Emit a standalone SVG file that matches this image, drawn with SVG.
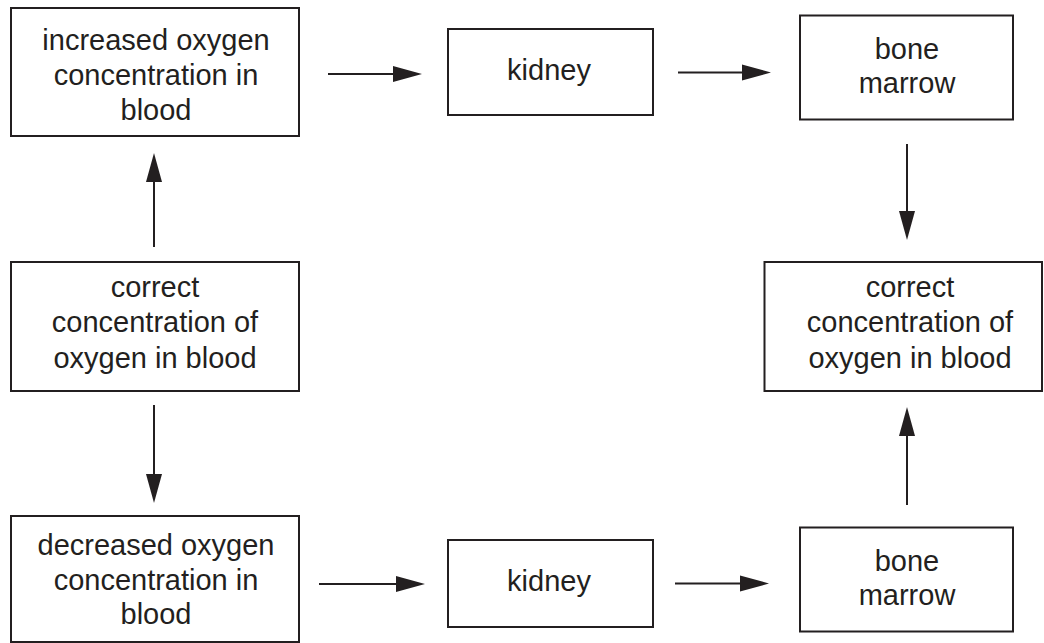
<svg xmlns="http://www.w3.org/2000/svg" width="1044" height="643" viewBox="0 0 1044 643">
<style>
.box{fill:#fff;stroke:#231f20;stroke-width:2}
.lbl{font-family:"Liberation Sans",Arial,sans-serif;font-size:29px;fill:#231f20;text-anchor:middle}
.conn{stroke:#231f20;stroke-width:2;fill:none;marker-end:url(#ah)}
</style>
<defs>
<marker id="ah" markerUnits="userSpaceOnUse" markerWidth="30" markerHeight="17" refX="19" refY="8" orient="auto" overflow="visible">
<path d="M0,0 L29,8 L0,16 Z" fill="#231f20"/>
</marker>
</defs>
<rect width="1044" height="643" fill="#fff"/>
<g id="connectors">
<line class="conn" x1="328" y1="74" x2="412" y2="74"/>
<line class="conn" x1="678" y1="72.5" x2="761" y2="72.5"/>
<line class="conn" x1="907" y1="144" x2="907" y2="230"/>
<line class="conn" x1="154" y1="247" x2="154" y2="163"/>
<line class="conn" x1="154" y1="405" x2="154" y2="493"/>
<line class="conn" x1="319" y1="584" x2="415" y2="584"/>
<line class="conn" x1="675" y1="583.5" x2="759" y2="583.5"/>
<line class="conn" x1="907" y1="505" x2="907" y2="417"/>
</g>
<g id="increased">
<rect class="box" x="11" y="8" width="288" height="128"/>
<text class="lbl" x="156" y="50">increased oxygen</text>
<text class="lbl" x="156" y="85">concentration in</text>
<text class="lbl" x="156" y="119.5">blood</text>
</g>
<g id="kidney-top">
<rect class="box" x="448" y="29" width="205" height="86"/>
<text class="lbl" x="549" y="79.5">kidney</text>
</g>
<g id="marrow-top">
<rect class="box" x="800" y="15.5" width="213" height="104"/>
<text class="lbl" x="907" y="58.5">bone</text>
<text class="lbl" x="907" y="92.5">marrow</text>
</g>
<g id="correct-left">
<rect class="box" x="11" y="262" width="288" height="129"/>
<text class="lbl" x="155" y="296.5">correct</text>
<text class="lbl" x="155" y="332">concentration of</text>
<text class="lbl" x="155" y="367.5">oxygen in blood</text>
</g>
<g id="correct-right">
<rect class="box" x="764.5" y="262" width="277.5" height="129"/>
<text class="lbl" x="910" y="296.5">correct</text>
<text class="lbl" x="910" y="332">concentration of</text>
<text class="lbl" x="910" y="367.5">oxygen in blood</text>
</g>
<g id="decreased">
<rect class="box" x="11" y="516" width="288" height="126"/>
<text class="lbl" x="156" y="555">decreased oxygen</text>
<text class="lbl" x="156" y="590">concentration in</text>
<text class="lbl" x="156" y="624">blood</text>
</g>
<g id="kidney-bottom">
<rect class="box" x="448" y="540" width="205" height="87"/>
<text class="lbl" x="549" y="590.5">kidney</text>
</g>
<g id="marrow-bottom">
<rect class="box" x="800" y="527.5" width="213" height="104"/>
<text class="lbl" x="907" y="570.5">bone</text>
<text class="lbl" x="907" y="604.5">marrow</text>
</g>
</svg>
